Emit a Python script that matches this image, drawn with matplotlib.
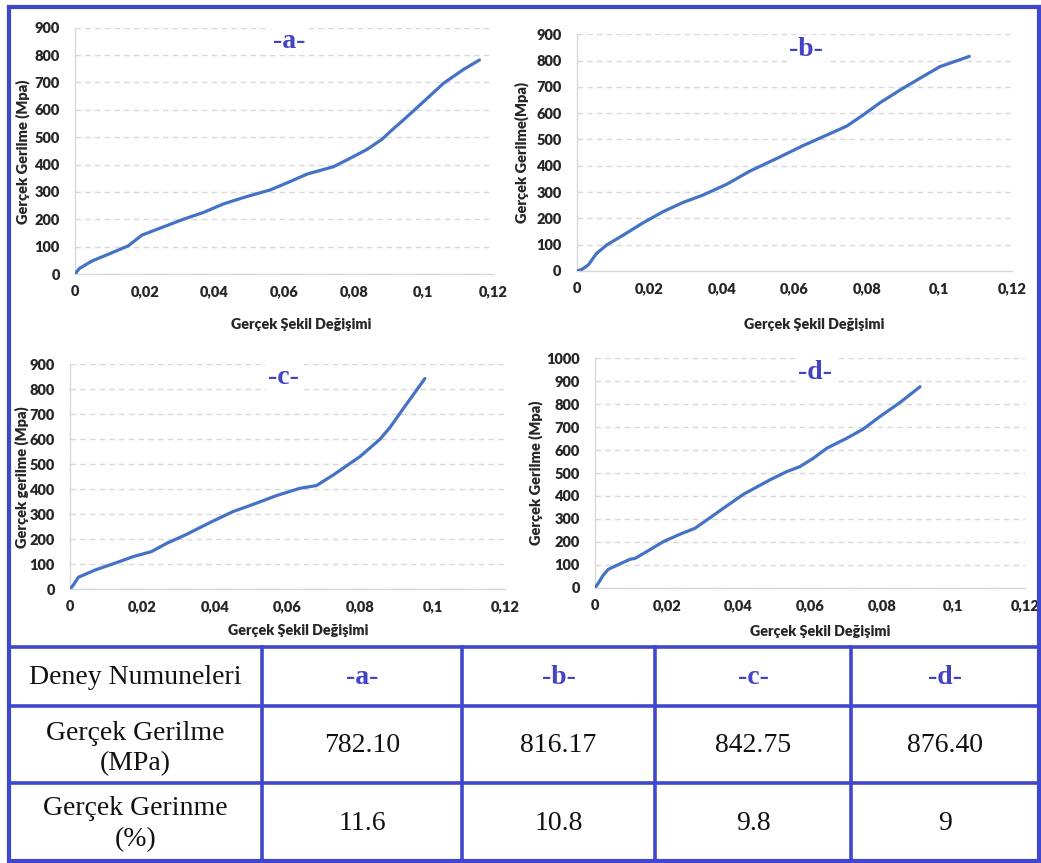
import matplotlib
matplotlib.use("Agg")
import matplotlib.pyplot as plt
from matplotlib.lines import Line2D

# ---------------- data ----------------
strain_a = [0, 0.00125, 0.0048, 0.0101, 0.0153, 0.0192, 0.0235, 0.0311, 0.0369, 0.0426, 0.0493,
            0.056, 0.0618, 0.0666, 0.0742, 0.079, 0.0838, 0.0881, 0.0915, 0.0943, 0.1001, 0.1058,
            0.1116, 0.1161]
stress_a = [0, 20, 47, 75, 103, 142, 163, 200, 225, 256, 283, 307, 338, 365, 392, 423, 455, 492,
            532, 563, 630, 697, 748, 782]

strain_b = [0, 0.0014, 0.0032, 0.0055, 0.0083, 0.0129, 0.0184, 0.0239, 0.0294, 0.0349, 0.0414,
            0.0478, 0.0552, 0.0625, 0.069, 0.0745, 0.079, 0.0837, 0.0892, 0.0947, 0.1002, 0.1083]
stress_b = [0, 6, 23, 67, 99, 137, 184, 226, 261, 289, 330, 380, 428, 477, 517, 551, 593, 640,
            688, 733, 777, 816]

strain_c = [0, 0.0009, 0.0023, 0.0069, 0.0129, 0.0175, 0.0225, 0.0267, 0.0322, 0.0386, 0.045,
            0.0506, 0.057, 0.0634, 0.068, 0.0726, 0.08, 0.0855, 0.0883, 0.092, 0.0979]
stress_c = [0, 17, 48, 77, 107, 131, 151, 184, 220, 267, 311, 340, 375, 404, 415, 457, 531, 600,
            648, 724, 843]

strain_d = [0, 0.0009, 0.0023, 0.0037, 0.006, 0.0098, 0.0112, 0.0144, 0.0191, 0.0237, 0.0279,
            0.0312, 0.0358, 0.0414, 0.0488, 0.0535, 0.0572, 0.0609, 0.0647, 0.0702, 0.0749,
            0.0795, 0.0851, 0.0907]
stress_d = [0, 19, 55, 80, 97, 124, 128, 157, 201, 233, 259, 295, 346, 407, 470, 506, 528, 564,
            608, 651, 692, 746, 807, 876]

panel_names = ["-a-", "-b-", "-c-", "-d-"]
y_labels = ["Gerçek Gerilme (Mpa)", "Gerçek Gerilme(Mpa)", "Gerçek gerilme (Mpa)", "Gerçek Gerilme (Mpa)"]
x_label = "Gerçek Şekil Değişimi"
x_ticks = [0, 0.02, 0.04, 0.06, 0.08, 0.10, 0.12]
x_tick_labels = ["0", "0,02", "0,04", "0,06", "0,08", "0,1", "0,12"]
y_max = [900, 900, 900, 1000]

table_row_labels = ["Deney Numuneleri", "Gerçek Gerilme\n(MPa)", "Gerçek Gerinme\n(%)"]
max_stress = [782.10, 816.17, 842.75, 876.40]
max_strain_pct = [11.6, 10.8, 9.8, 9]

# ---------------- style ----------------
W, H = 1041, 863
LINE = "#4472C4"
FRAME = "#3F48CC"
TITLE = "#4343C6"
GRID = "#D9D9D9"
TXT = "#262626"
SANS = ["Lato", "DejaVu Sans"]
SERIF = ["Liberation Serif", "DejaVu Serif"]

fig = plt.figure(figsize=(W / 100, H / 100), dpi=100)

def px_rect(x0, x1, y_top, y_bot):
    return [x0 / W, 1 - y_bot / H, (x1 - x0) / W, (y_bot - y_top) / H]

rects = [px_rect(75, 493, 27.7, 274), px_rect(576.7, 1011.7, 34.3, 271),
         px_rect(70, 505, 364.3, 589.3), px_rect(595, 1025, 358.3, 587.7)]
title_pos = [(0.512, 0.945), (0.528, 0.937), (0.49, 0.94), (0.512, 0.939)]
xlab_pos = [(0.54, -0.207), (0.547, -0.228), (0.524, -0.185), (0.523, -0.193)]
ylab_pos = [(-0.125, 0.495), (-0.127, 0.5), (-0.111, 0.5), (-0.138, 0.5)]

series = [(strain_a, stress_a), (strain_b, stress_b), (strain_c, stress_c), (strain_d, stress_d)]

for i, (xs, ys) in enumerate(series):
    ax = fig.add_axes(rects[i])
    ax.plot(xs, ys, color=LINE, lw=2.3, solid_capstyle="round", zorder=3)
    ax.set_xlim(0, 0.12)
    ax.set_ylim(0, y_max[i])
    ax.set_xticks(x_ticks)
    ax.set_xticklabels(x_tick_labels)
    ax.set_yticks(range(0, y_max[i] + 1, 100))
    ax.set_yticklabels([str(v) for v in range(0, y_max[i] + 1, 100)])
    for lab in ax.get_xticklabels() + ax.get_yticklabels():
        lab.set_fontfamily(SANS)
        lab.set_fontweight("heavy")
        lab.set_fontsize(10.5)
        lab.set_color(TXT)
    ax.tick_params(axis="both", length=0)
    ax.tick_params(axis="x", pad=8)
    ax.tick_params(axis="y", pad=11)
    ax.grid(axis="y", color=GRID, ls=(0, (4, 3)), lw=1.0)
    ax.set_axisbelow(True)
    for s in ["top", "right"]:
        ax.spines[s].set_visible(False)
    for s in ["left", "bottom"]:
        ax.spines[s].set_color(GRID)
        ax.spines[s].set_linewidth(1.0)
    tx, ty = title_pos[i]
    ax.text(tx, ty, panel_names[i], transform=ax.transAxes, ha="center", va="center",
            fontfamily=SERIF, fontweight="bold", fontsize=20, color=TITLE, zorder=4,
            bbox=dict(facecolor="white", edgecolor="none", pad=1))
    lx, ly = xlab_pos[i]
    ax.text(lx, ly, x_label, transform=ax.transAxes, ha="center", va="center",
            fontfamily=SANS, fontweight="heavy", fontsize=10.3, color=TXT)
    yx, yy = ylab_pos[i]
    ax.text(yx, yy, y_labels[i], transform=ax.transAxes, ha="center", va="center", rotation=90,
            fontfamily=SANS, fontweight="heavy", fontsize=10.5, color=TXT)

# ---------------- overlay: frame and table ----------------
ov = fig.add_axes([0, 0, 1, 1], zorder=10)
ov.set_xlim(0, W)
ov.set_ylim(H, 0)
ov.axis("off")
ov.patch.set_alpha(0)

def seg(x0, y0, x1, y1, lw):
    ov.add_line(Line2D([x0, x1], [y0, y1], color=FRAME, lw=lw, solid_capstyle="projecting"))

# outer frame
left, right, top, bottom = 9, 1039, 7.5, 861
seg(left, top, right, top, 3.0)
seg(left, bottom, right, bottom, 3.0)
seg(left, top, left, bottom, 3.0)
seg(right, top, right, bottom, 3.0)

# table grid
row_lines = [647, 706, 783]
col_lines = [262, 462, 655, 851]
for y in row_lines:
    seg(left, y, right, y, 2.6)
for x in col_lines:
    seg(x, row_lines[0], x, bottom, 2.6)

col_edges = [left] + col_lines + [right]
row_edges = row_lines + [bottom]
col_c = [(col_edges[k] + col_edges[k + 1]) / 2 for k in range(5)]
row_c = [(row_edges[k] + row_edges[k + 1]) / 2 for k in range(3)]

row_label_dy = [1, 4, 2]
for r in range(3):
    ov.text(col_c[0], row_c[r] + row_label_dy[r], table_row_labels[r], ha="center", va="center",
            fontfamily=SERIF, fontsize=20, color="#111111", linespacing=1.3)
for k in range(4):
    ov.text(col_c[k + 1], row_c[0] + 1, panel_names[k], ha="center", va="center",
            fontfamily=SERIF, fontweight="bold", fontsize=20, color=TITLE)
    ov.text(col_c[k + 1], row_c[1] + 1, f"{max_stress[k]:.2f}", ha="center", va="center",
            fontfamily=SERIF, fontsize=20, color="#111111")
    ov.text(col_c[k + 1], row_c[2] + 1, f"{max_strain_pct[k]:g}", ha="center", va="center",
            fontfamily=SERIF, fontsize=20, color="#111111")

fig.savefig("out.png", dpi=100, facecolor="white")
